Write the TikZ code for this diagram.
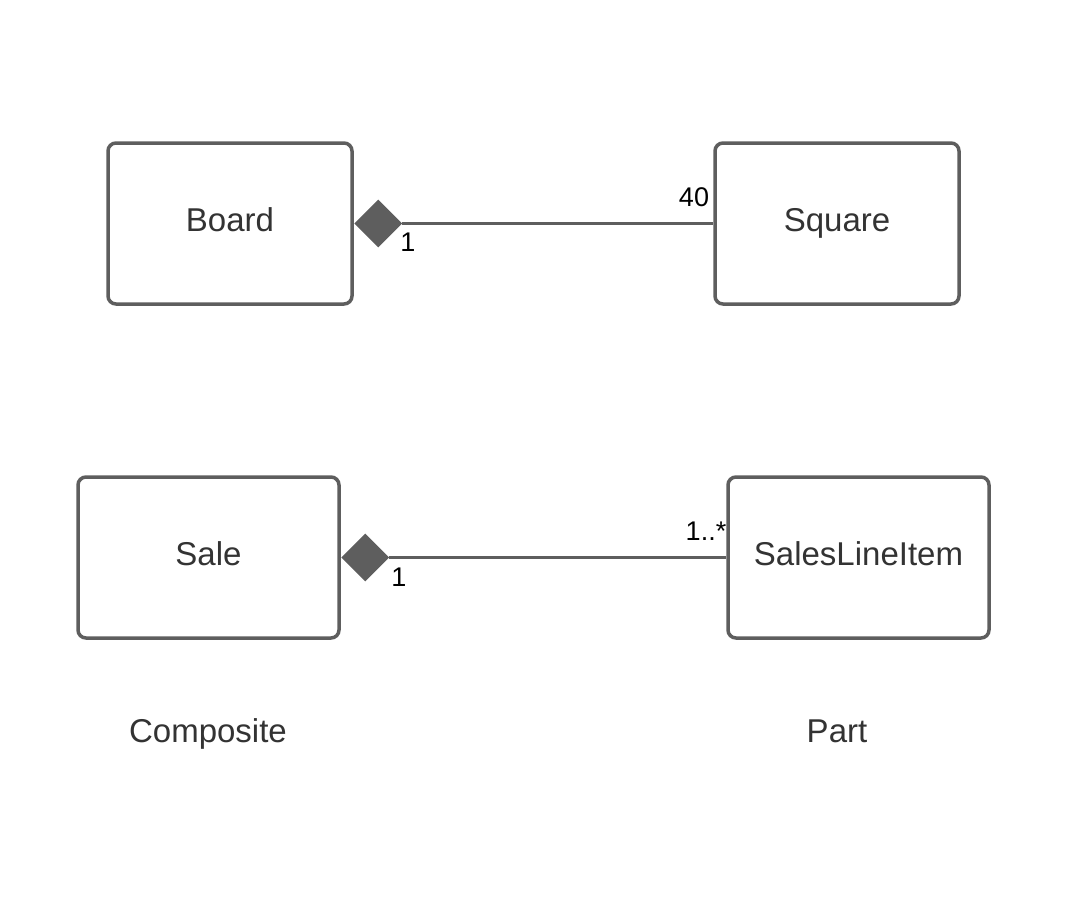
\documentclass[tikz,border=0pt]{standalone}
\usepackage{fontspec}
\setmainfont{Liberation Sans}
\usetikzlibrary{shapes.geometric}
\definecolor{edge}{HTML}{5E5E5E}
\definecolor{txt}{HTML}{333333}
\begin{document}
\begin{tikzpicture}[x=1pt,y=-1pt,
  classbox/.style={draw=edge, line width=3.5pt, rounded corners=8pt, fill=white,
    minimum width=244pt, minimum height=161pt, inner sep=0pt,
    text height=24pt, text depth=8pt,
    text=txt, font=\fontsize{33}{40}\selectfont},
  comp/.style={diamond, fill=edge, draw=none, minimum width=48pt, minimum height=48pt,
    inner sep=0pt, anchor=west, aspect=1},
  conn/.style={draw=edge, line width=3pt},
  mult/.style={text=black, font=\fontsize{27}{32}\selectfont, inner sep=0pt},
  caption/.style={text=txt, font=\fontsize{33}{40}\selectfont, inner sep=0pt, anchor=base}]
\useasboundingbox[fill=white] (0,0) rectangle (1090,908);
\node[classbox] (board) at (230,223.5) {Board};
\node[classbox] (square) at (837,223.5) {Square};
\node[classbox, minimum width=261pt] (sale) at (208.5,557.5) {Sale};
\node[classbox, minimum width=261pt] (sli) at (858.5,557.5) {SalesLineItem};
\node[comp] (d1) at (354,223.5) {};
\node[comp] (d2) at (341,557.5) {};
\draw[conn] (d1.east) -- (square.west);
\draw[conn] (d2.east) -- (sli.west);
\node[mult] (m1) at (408,242) {1};
\node[mult] (m2) at (694,197.5) {40};
\node[mult] (m3) at (706,531) {1..*};
\node[mult] (m4) at (399,577) {1};
\node[caption] (compl) at (208,742) {Composite};
\node[caption] (partl) at (837,742) {Part};
\end{tikzpicture}
\end{document}
